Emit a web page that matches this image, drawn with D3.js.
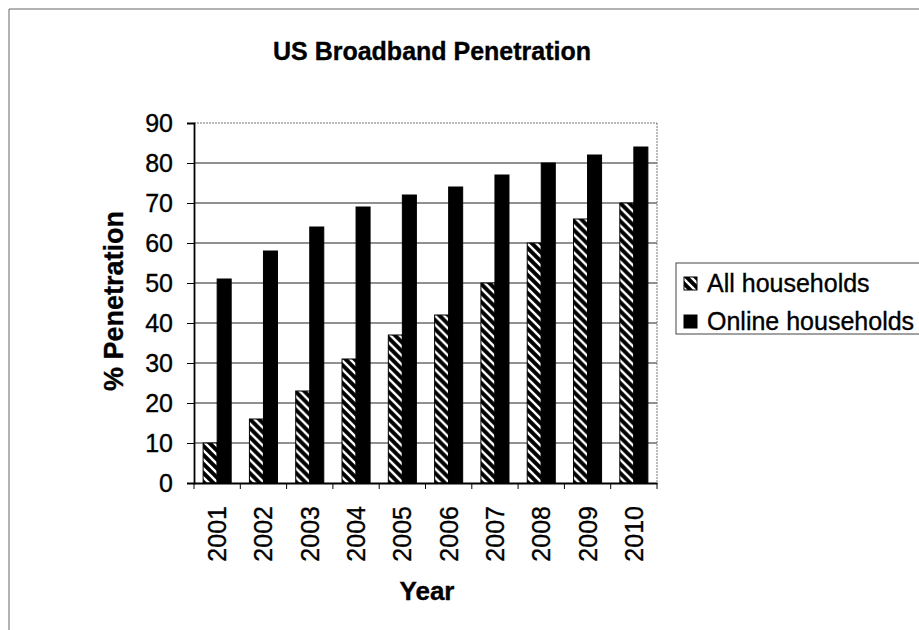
<!DOCTYPE html>
<html><head><meta charset="utf-8">
<script src="https://cdn.jsdelivr.net/npm/d3@7"></script>
<style>
html,body{margin:0;padding:0;background:#fff;}
text{font-family:Arial,"Liberation Sans",sans-serif;fill:#000;stroke:#000;stroke-width:0.35px;}
</style></head>
<body>
<svg id="c" width="919" height="630"></svg>
<script>
const years = ["2001","2002","2003","2004","2005","2006","2007","2008","2009","2010"];
const allHouseholds = [10,16,23,31,37,42,50,60,66,70];
const onlineHouseholds = [51,58,64,69,72,74,77,80,82,84];
const seriesNames = ["All households","Online households"];
const yTicks = [0,10,20,30,40,50,60,70,80,90];

const svg = d3.select("#c");
const L = 194, R = 657, T = 123, B = 483;

// pattern
const defs = svg.append("defs");
const pat = defs.append("pattern").attr("id","hatch").attr("patternUnits","userSpaceOnUse")
  .attr("width",9).attr("height",9);
pat.append("rect").attr("width",9).attr("height",9).attr("fill","#000");
pat.append("path").attr("d","M-2,-2 L11,11 M-2,7 L2,11 M7,-2 L11,2")
  .attr("stroke","#fff").attr("stroke-width",2.4);

// outer frame
svg.append("line").attr("x1",9).attr("y1",9).attr("x2",919).attr("y2",9).attr("stroke","#666").attr("stroke-width",1);
svg.append("line").attr("x1",9).attr("y1",9).attr("x2",9).attr("y2",630).attr("stroke","#666").attr("stroke-width",1);

const x = d3.scaleBand().domain(years).range([L,R]).paddingInner(0).paddingOuter(0);
const inner = d3.scaleBand().domain(seriesNames).range([0,x.bandwidth()]).paddingInner(0).paddingOuter(0.65);
const y = d3.scaleLinear().domain([0,90]).range([B,T]);

// gridlines
svg.append("g").selectAll("line").data(yTicks.slice(1)).join("line")
  .attr("x1",L).attr("x2",R).attr("y1",d=>y(d)).attr("y2",d=>y(d))
  .attr("stroke", d=> d===90 ? "#777" : "#222").attr("stroke-width",1.2)
  .attr("stroke-dasharray", d=> d===90 ? "2,1" : null);
// right border dotted
svg.append("line").attr("x1",R).attr("x2",R).attr("y1",T).attr("y2",B)
  .attr("stroke","#777").attr("stroke-dasharray","2,1");

// bars
const data = years.map((yr,i)=>({yr, vals:[allHouseholds[i], onlineHouseholds[i]]}));
const g = svg.append("g").selectAll("g").data(data).join("g")
  .attr("transform",d=>`translate(${x(d.yr)},0)`);
g.selectAll("rect").data(d=>d.vals.map((v,j)=>({v,s:seriesNames[j]}))).join("rect")
  .attr("x",d=>inner(d.s)).attr("width",inner.bandwidth())
  .attr("y",d=>y(d.v)).attr("height",d=>B-y(d.v))
  .attr("fill",d=>d.s===seriesNames[0]?"url(#hatch)":"#000")
  .attr("stroke","#000").attr("stroke-width",1);

// y axis
const yAxis = d3.axisLeft(y).tickValues(yTicks).tickSize(7).tickPadding(14);
const ya = svg.append("g").attr("transform",`translate(${L},0)`).call(yAxis);
ya.select(".domain").attr("stroke","#000").attr("stroke-width",1.8);
ya.selectAll(".tick line").attr("stroke","#000");
ya.selectAll(".tick text").attr("font-size","25px").attr("font-family","Arial, 'Liberation Sans', sans-serif").attr("fill","#000");

// x axis
const xa = svg.append("g").attr("transform",`translate(0,${B})`).call(d3.axisBottom(x).tickSize(0).tickPadding(0));
xa.select(".domain").attr("stroke","#000").attr("stroke-width",1.8);
xa.selectAll(".tick text").attr("font-size","25px").attr("font-family","Arial, 'Liberation Sans', sans-serif").attr("fill","#000")
  .attr("transform","translate(9,23) rotate(-90)").attr("text-anchor","end").attr("dy","0");
// category boundary ticks
svg.append("g").selectAll("line").data(years.concat(["end"])).join("line")
  .attr("x1",d=> d==="end"? R : x(d)).attr("x2",d=> d==="end"? R : x(d))
  .attr("y1",B).attr("y2",B+6).attr("stroke","#000");

// titles
svg.append("text").attr("x",432).attr("y",60).attr("text-anchor","middle")
  .attr("font-size","25px").attr("font-weight","bold").text("US Broadband Penetration");
svg.append("text").attr("transform","translate(123,301) rotate(-90)").attr("text-anchor","middle")
  .attr("font-size","27px").attr("font-weight","bold").text("% Penetration");
svg.append("text").attr("x",427).attr("y",600).attr("text-anchor","middle")
  .attr("font-size","26px").attr("font-weight","bold").text("Year");

// legend
const lg = svg.append("g");
lg.append("rect").attr("x",676).attr("y",263).attr("width",260).attr("height",71)
  .attr("fill","#fff").attr("stroke","#444").attr("stroke-width",1);
const items = lg.selectAll("g").data(seriesNames).join("g")
  .attr("transform",(d,i)=>`translate(0,${i*38})`);
items.append("rect").attr("x",684).attr("y",277).attr("width",13).attr("height",13)
  .attr("fill",(d,i)=> i===0 ? "url(#hatch)" : "#000").attr("stroke","#000");
items.append("text").attr("x",707).attr("y",292).attr("font-size","25px").text(d=>d);
</script>
</body></html>
